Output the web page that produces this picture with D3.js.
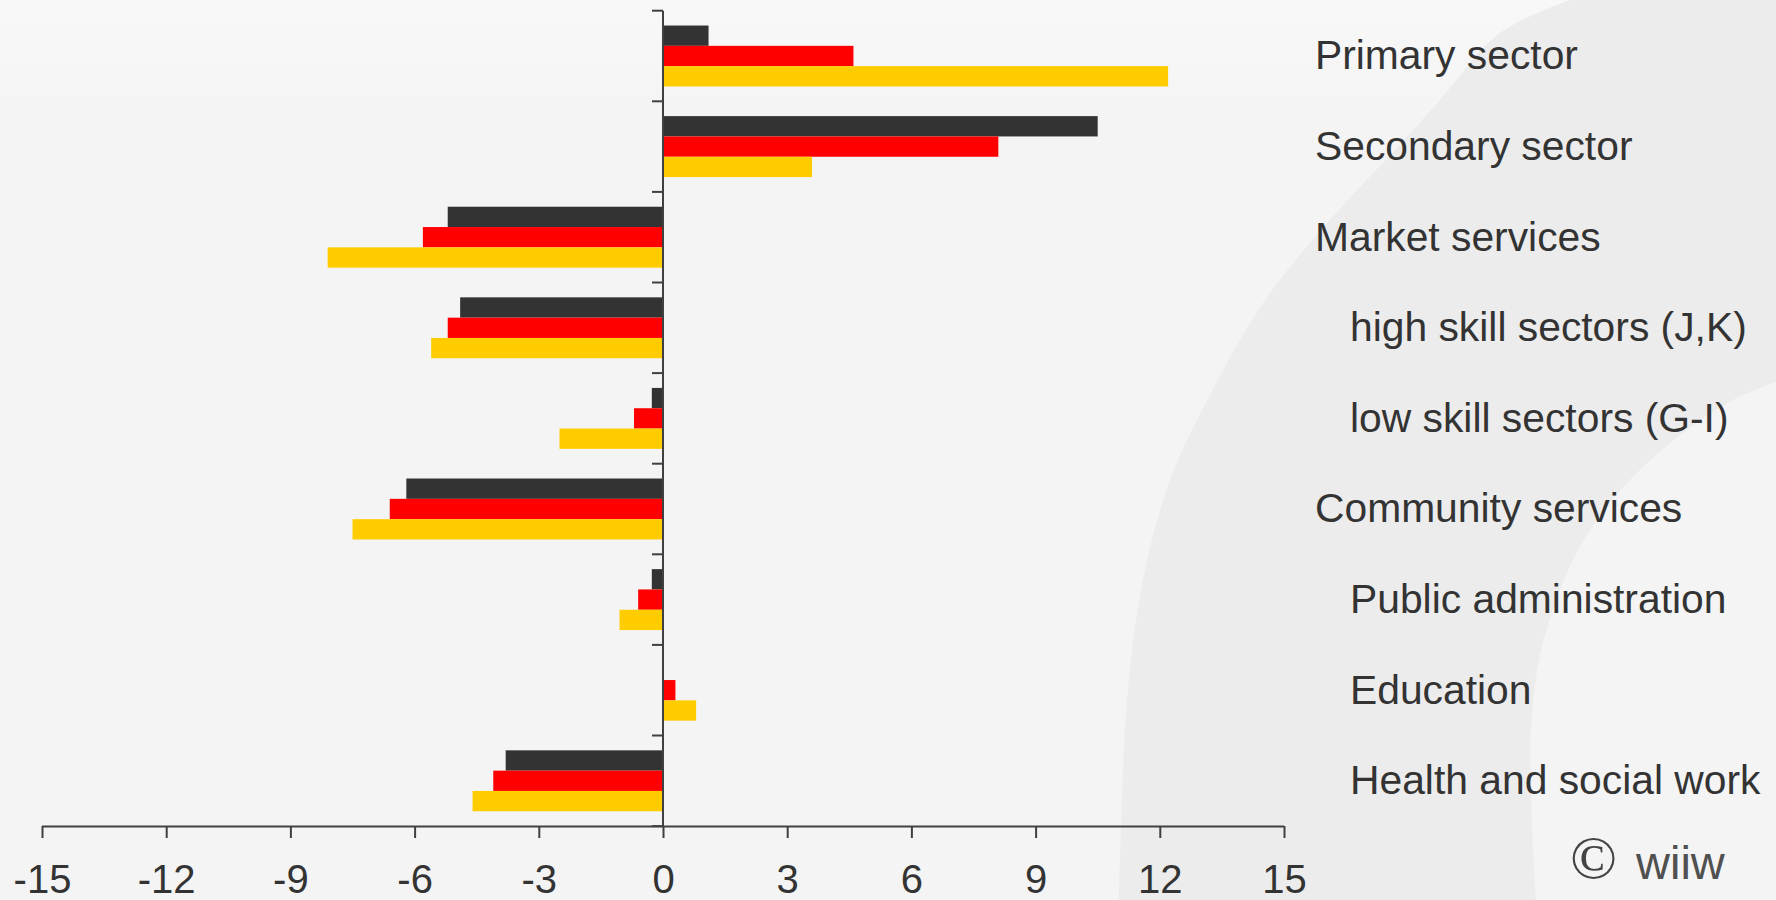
<!DOCTYPE html>
<html>
<head>
<meta charset="utf-8">
<script src="https://cdn.jsdelivr.net/npm/d3@7/dist/d3.min.js"></script>
<style>
  html, body { margin: 0; padding: 0; background: #f4f4f4; overflow: hidden; }
  svg { display: block; }
</style>
</head>
<body>
<svg id="chart" width="1776" height="900"></svg>
<script>
// ---- data ----
const categories = [
  "Primary sector",
  "Secondary sector",
  "Market services",
  "high skill sectors (J,K)",
  "low skill sectors (G-I)",
  "Community services",
  "Public administration",
  "Education",
  "Health and social work"
];
const indented = [false, false, false, true, true, false, true, true, true];
const seriesNames = ["series1", "series2", "series3"];
const series1 = [1.1, 10.5, -5.2, -4.9, -0.27, -6.2, -0.27, 0, -3.8];
const series2 = [4.6, 8.1, -5.8, -5.2, -0.7, -6.6, -0.6, 0.3, -4.1];
const series3 = [12.2, 3.6, -8.1, -5.6, -2.5, -7.5, -1.05, 0.8, -4.6];
const seriesColors = ["#333333", "#ff0000", "#ffcc00"];
const xTicks = [-15, -12, -9, -6, -3, 0, 3, 6, 9, 12, 15];

const seriesValues = [series1, series2, series3];

// ---- layout ----
const W = 1776, H = 900;
const svg = d3.select("#chart");

// background
const defs = svg.append("defs");
const bg = defs.append("linearGradient").attr("id", "bgGrad")
  .attr("gradientUnits", "userSpaceOnUse").attr("x1", 0).attr("y1", 0).attr("x2", 0).attr("y2", 120);
bg.append("stop").attr("offset", "0").attr("stop-color", "#f8f8f8");
bg.append("stop").attr("offset", "1").attr("stop-color", "#f4f4f4");
svg.append("rect").attr("width", W).attr("height", H).attr("fill", "url(#bgGrad)");

// watermark arc (decorative)
const outerPts = [[1570,0],[1500,33],[1440,100],[1395,150],[1330,220],[1265,300],[1210,395],[1170,480],[1143,580],[1127,700],[1119,900]];
const innerPts = [[1536,900],[1531,728],[1545,635],[1582,543],[1630,480],[1683,433],[1733,400],[1776,382]];
const curve = d3.line().curve(d3.curveCatmullRom);
const dArc = curve(outerPts) + "L" + curve(innerPts).slice(1) + "L1776,0Z";
svg.append("path").attr("d", dArc).attr("fill", "#ececec");

const x = d3.scaleLinear().domain([-15, 15]).range([42, 1284]);
const y0 = d3.scaleBand().domain(categories).range([10.7, 826.1]).padding(0);
const y1 = d3.scaleBand().domain(seriesNames).range([0, y0.bandwidth()]).paddingInner(0).paddingOuter(0.73);

const rows = categories.map((c, i) => ({
  cat: c,
  vals: seriesNames.map((s, j) => ({ s, v: seriesValues[j][i], color: seriesColors[j] }))
}));

const g = svg.append("g");
const groups = g.selectAll("g.cat").data(rows).join("g")
  .attr("class", "cat")
  .attr("transform", d => `translate(0,${y0(d.cat)})`);
groups.selectAll("rect").data(d => d.vals).join("rect")
  .attr("x", d => x(Math.min(0, d.v)))
  .attr("width", d => Math.abs(x(d.v) - x(0)))
  .attr("y", d => y1(d.s))
  .attr("height", y1.bandwidth())
  .attr("fill", d => d.color);

// x axis
const axisColor = "#404040";
const xAxis = d3.axisBottom(x).tickValues(xTicks).tickSize(12).tickPadding(27)
  .tickFormat(d => String(d));
const xg = svg.append("g").attr("transform", `translate(0,${826})`).call(xAxis);
xg.select(".domain").attr("stroke", axisColor).attr("stroke-width", 2)
  .attr("d", `M${x(-15)},0.5H${x(15)}`);
xg.selectAll(".tick line").attr("stroke", axisColor).attr("stroke-width", 2);
xg.selectAll(".tick text")
  .attr("fill", "#333333")
  .style("font-family", "'Liberation Sans', Arial, sans-serif")
  .style("font-size", "40px")
  .attr("dy", "0.71em");

// y axis at zero, ticks at band boundaries
const boundaries = categories.map(c => y0(c)).concat([y0.range()[1]]);
const yg = svg.append("g");
yg.append("line").attr("x1", x(0)).attr("x2", x(0))
  .attr("y1", boundaries[0]).attr("y2", boundaries[boundaries.length - 1])
  .attr("stroke", axisColor).attr("stroke-width", 2);
yg.selectAll("line.t").data(boundaries).join("line").attr("class", "t")
  .attr("x1", x(0) - 11).attr("x2", x(0))
  .attr("y1", d => d).attr("y2", d => d)
  .attr("stroke", axisColor).attr("stroke-width", 2);

// category labels on the right
svg.append("g").selectAll("text").data(categories).join("text")
  .attr("x", (d, i) => indented[i] ? 1350 : 1315)
  .attr("y", d => y0(d) + y0.bandwidth() / 2)
  .attr("dy", "0.33em")
  .attr("fill", "#333333")
  .style("font-family", "'Liberation Sans', Arial, sans-serif")
  .style("font-size", "40.8px")
  .text(d => d);

// copyright
svg.append("text").attr("x", 1570).attr("y", 878)
  .attr("fill", "#444444")
  .style("font-family", "'Liberation Serif', 'Times New Roman', serif")
  .style("font-size", "62px")
  .text("\u00A9");
svg.append("text").attr("x", 1636).attr("y", 879)
  .attr("fill", "#505050")
  .style("font-family", "'Liberation Sans', Arial, sans-serif")
  .style("font-size", "47px")
  .text("wiiw");
</script>
</body>
</html>
